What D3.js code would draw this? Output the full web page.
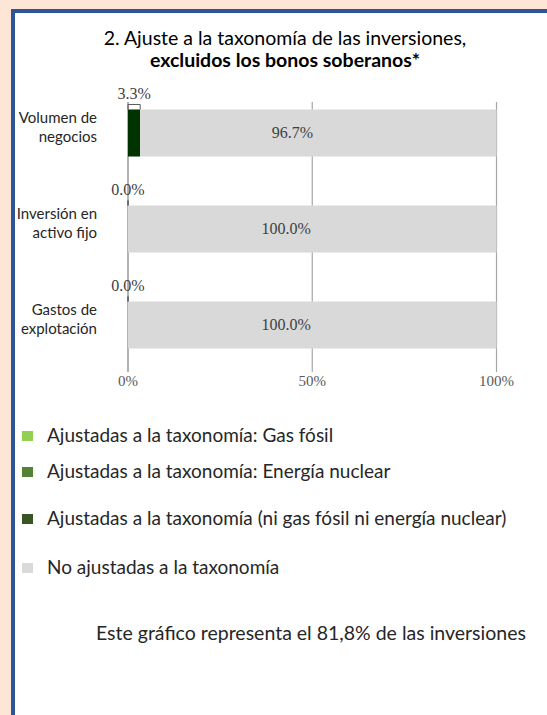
<!DOCTYPE html>
<html>
<head>
<meta charset="utf-8">
<script src="https://cdn.jsdelivr.net/npm/d3@7"></script>
<style>
  body { margin: 0; background: #fde6d6; }
  svg { display: block; }
</style>
</head>
<body>
<div id="chart"></div>
<script>
// data
const categories = ["Volumen de\nnegocios", "Inversión en\nactivo fijo", "Gastos de\nexplotación"];
const gasFosil = [0, 0, 0];
const nuclear = [0, 0, 0];
const niGasNiNuclear = [3.3, 0, 0];
const noAjustadas = [96.7, 100, 100];
const xTicks = [0, 50, 100];
const legendLabels = [
  "Ajustadas a la taxonomía: Gas fósil",
  "Ajustadas a la taxonomía: Energía nuclear",
  "Ajustadas a la taxonomía (ni gas fósil ni energía nuclear)",
  "No ajustadas a la taxonomía"
];
const legendColors = ["#92d050", "#548235", "#375623", "#d9d9d9"];
const barColors = ["#92d050", "#548235", "#003300", "#d9d9d9"];

const width = 547, height = 715;
const sans = "Lato, 'Open Sans', sans-serif";
const serif = "'Liberation Serif', 'DejaVu Serif', serif";

const svg = d3.select("#chart").append("svg")
  .attr("width", width).attr("height", height);

// panel with blue border on top and left
svg.append("rect").attr("x", 13).attr("y", 11).attr("width", width).attr("height", height)
  .attr("fill", "#fff").attr("stroke", "#2f5597").attr("stroke-width", 4);

// title
const title = svg.append("text").attr("text-anchor", "middle").attr("fill", "#000")
  .style("font-family", sans).style("font-size", "19.5px");
title.append("tspan").attr("x", 285).attr("y", 45).text("2. Ajuste a la taxonomía de las inversiones,");
title.append("tspan").attr("x", 285).attr("y", 67).style("font-weight", "bold").text("excluidos los bonos soberanos*");

// scales
const x = d3.scaleLinear().domain([0, 100]).range([128, 496.5]);
const y = d3.scaleBand().domain(categories).range([85, 373]).paddingInner(0.51).paddingOuter(0.255);

// rows of stacked values
const rows = categories.map((c, i) => ({
  cat: c,
  parts: [gasFosil[i], nuclear[i], niGasNiNuclear[i], noAjustadas[i]]
}));
rows.forEach(r => {
  let acc = 0;
  r.segs = r.parts.map((v, k) => { const s = { x0: acc, x1: acc + v, v, k }; acc += v; return s; });
  r.aligned = r.parts[0] + r.parts[1] + r.parts[2];
});

// gridlines
svg.append("g").selectAll("line").data(xTicks).join("line")
  .attr("x1", d => x(d)).attr("x2", d => x(d))
  .attr("y1", 102).attr("y2", 372)
  .attr("stroke", d => d === 0 ? "#7f7f7f" : "#a6a6a6").attr("stroke-width", 1.2);

// bars
const g = svg.append("g").selectAll("g").data(rows).join("g");
g.selectAll("rect").data(r => r.segs.filter(s => s.v > 0).map(s => ({ ...s, cat: r.cat })))
  .join("rect")
  .attr("x", d => x(d.x0)).attr("width", d => x(d.x1) - x(d.x0))
  .attr("y", d => y(d.cat)).attr("height", y.bandwidth())
  .attr("fill", d => barColors[d.k]);

// label of the not aligned part
g.append("text")
  .attr("x", r => x(r.aligned + r.parts[3] / 2) - 26)
  .attr("y", r => y(r.cat) + y.bandwidth() / 2 + 5)
  .attr("text-anchor", "middle").attr("fill", "#404040")
  .style("font-family", serif).style("font-size", "16px")
  .text(r => r.parts[3].toFixed(1) + "%");

// callout for the aligned part
g.append("path")
  .attr("d", r => `M${x(0)},${y(r.cat)}V${y(r.cat) - 5}H${x(r.aligned)}V${y(r.cat)}`)
  .attr("fill", "none").attr("stroke", "#595959").attr("stroke-width", 1);
g.append("text")
  .attr("x", r => x(r.aligned / 2))
  .attr("y", r => y(r.cat) - 10)
  .attr("text-anchor", "middle").attr("fill", "#404040")
  .style("font-family", serif).style("font-size", "16px")
  .text(r => r.aligned.toFixed(1) + "%");

// category labels
const catText = svg.append("g").selectAll("text").data(categories).join("text")
  .attr("text-anchor", "end").attr("fill", "#262626")
  .style("font-family", sans).style("font-size", "15px");
catText.selectAll("tspan").data(c => c.split("\n").map((t, j) => ({ t, j, c })))
  .join("tspan")
  .attr("x", 97)
  .attr("y", d => y(d.c) + y.bandwidth() / 2 - 10 + d.j * 19)
  .text(d => d.t);

// x axis labels
svg.append("g").selectAll("text").data(xTicks).join("text")
  .attr("x", d => x(d)).attr("y", 386)
  .attr("text-anchor", "middle").attr("fill", "#595959")
  .style("font-family", serif).style("font-size", "15px")
  .text(d => d + "%");

// legend
const legY = [436, 472, 519, 568];
const leg = svg.append("g").selectAll("g").data(legendLabels).join("g");
leg.append("rect")
  .attr("x", 22).attr("y", (d, i) => legY[i] - 5).attr("width", 11).attr("height", 10)
  .attr("fill", (d, i) => legendColors[i]);
leg.append("text")
  .attr("x", 47).attr("y", (d, i) => legY[i] + 6)
  .attr("fill", "#262626")
  .style("font-family", sans).style("font-size", "19px")
  .text(d => d);

// footer
svg.append("text").attr("x", 96).attr("y", 640).attr("fill", "#262626")
  .style("font-family", sans).style("font-size", "19.5px")
  .text("Este gráfico representa el 81,8% de las inversiones");
</script>
</body>
</html>
